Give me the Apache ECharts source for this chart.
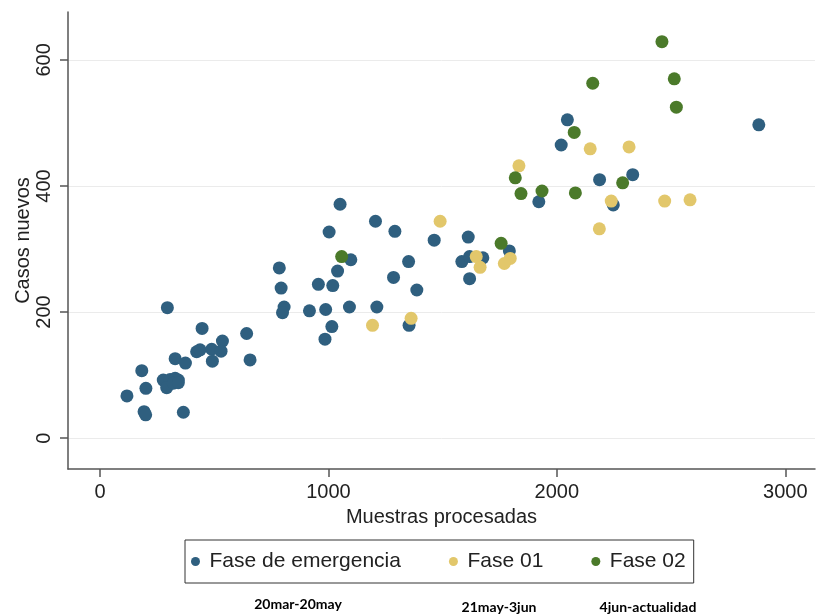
<!DOCTYPE html>
<html>
<head>
<meta charset="utf-8">
<script src="https://cdn.jsdelivr.net/npm/echarts@6/dist/echarts.min.js"></script>
<style>
html,body{margin:0;padding:0;background:#fff;}
#c{width:828px;height:615px;}
</style>
</head>
<body>
<div id="c"></div>
<script>
const seriesNames = ['Fase de emergencia', 'Fase 01', 'Fase 02'];
const periodLabels = ['20mar-20may', '21may-3jun', '4jun-actualidad'];
const xTicks = [0, 1000, 2000, 3000];
const yTicks = [0, 200, 400, 600];

const emergencia = [
  [118,67],[183,107],[201,79],[193,42],[200,37],[295,207],[277,92],[307,93],
  [329,95],[343,92],[292,80],[321,87],[343,88],[329,126],[374,119],[365,41],
  [447,174],[423,137],[438,140],[489,141],[536,154],[530,138],[492,122],[642,166],
  [657,124],[785,270],[793,238],[806,208],[799,199],[956,244],[1019,242],[917,202],
  [988,204],[1092,208],[1015,177],[985,157],[1051,371],[1003,327],[1098,283],[1040,265],
  [1212,208],[1206,344],[1291,328],[1351,280],[1285,255],[1387,235],[1353,179],[1463,314],
  [1612,319],[1584,280],[1618,288],[1676,286],[1618,253],[1792,297],[1921,375],[2884,497],
  [2046,505],[2019,465],[2187,410],[2332,418],[2247,370]
];
const fase01 = [
  [1193,179],[1362,190],[1489,344],[1647,288],[1664,271],[1796,285],[1770,277],
  [1834,432],[2146,459],[2316,462],[2238,376],[2472,376],[2583,378],[2186,332]
];
const fase02 = [
  [1058,288],[1756,309],[1843,388],[1935,392],[1818,413],[2460,629],[2514,570],
  [2523,525],[2157,563],[2076,485],[2081,389],[2288,405]
];

const colors = ['#2f5f7f', '#e2c76b', '#4b7a2a'];
const font = 'Liberation Sans, Arial, sans-serif';

const chart = echarts.init(document.getElementById('c'));
const mk = (name, data, i) => ({
  name, type: 'scatter', data, symbolSize: 13,
  itemStyle: {color: colors[i], opacity: 1},
  z: 3 + i
});
chart.setOption({
  animation: false,
  color: colors,
  textStyle: {fontFamily: font},
  grid: {left: 68, right: 13, top: 12, bottom: 146, outerBoundsMode: 'none', containLabel: false},
  xAxis: {
    type: 'value', min: -140, max: 3130,
    name: 'Muestras procesadas', nameLocation: 'middle', nameGap: 38, nameMoveOverlap: false,
    nameTextStyle: {fontSize: 20, color: '#222', fontFamily: font},
    axisLine: {show: true, onZero: false, lineStyle: {color: '#555', width: 1.5}},
    axisTick: {show: true, length: 8, lineStyle: {color: '#555', width: 1.5}, customValues: xTicks},
    axisLabel: {fontSize: 20, color: '#222', margin: 13, customValues: xTicks, fontFamily: font,
      formatter: v => String(v)},
    splitLine: {show: false}
  },
  yAxis: {
    type: 'value', min: -49, max: 676,
    name: 'Casos nuevos', nameLocation: 'middle', nameGap: 35, nameRotate: 90, nameMoveOverlap: false,
    nameTextStyle: {fontSize: 20, color: '#222', fontFamily: font},
    axisLine: {show: true, onZero: false, lineStyle: {color: '#555', width: 1.5}},
    axisTick: {show: true, length: 8, lineStyle: {color: '#555', width: 1.5}, customValues: yTicks},
    axisLabel: {fontSize: 20, color: '#222', rotate: 90, margin: 14, customValues: yTicks, fontFamily: font,
      formatter: v => String(v)},
    splitLine: {show: true, lineStyle: {color: '#ebebeb', width: 1}}
  },
  legend: {
    data: seriesNames,
    left: 185, top: 540,
    icon: 'circle', itemWidth: 18, itemHeight: 9, itemGap: 48,
    padding: [11, 8, 11, 6],
    borderColor: '#333', borderWidth: 1,
    textStyle: {fontSize: 21, color: '#222', fontFamily: font}
  },
  graphic: [
    {type: 'text', x: 298, y: 597, style: {text: periodLabels[0], align: 'center', font: 'bold 14px Lato, sans-serif', fill: '#000'}},
    {type: 'text', x: 499, y: 600, style: {text: periodLabels[1], align: 'center', font: 'bold 14px Lato, sans-serif', fill: '#000'}},
    {type: 'text', x: 648, y: 600, style: {text: periodLabels[2], align: 'center', font: 'bold 14px Lato, sans-serif', fill: '#000'}}
  ],
  series: [mk(seriesNames[0], emergencia, 0), mk(seriesNames[1], fase01, 1), mk(seriesNames[2], fase02, 2)]
});
</script>
</body>
</html>
